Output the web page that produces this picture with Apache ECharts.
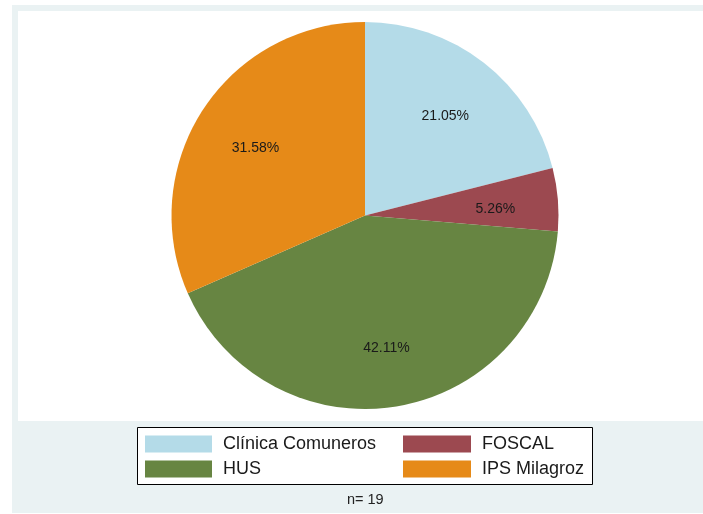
<!DOCTYPE html>
<html>
<head>
<meta charset="utf-8">
<script src="https://cdn.jsdelivr.net/npm/echarts@6/dist/echarts.min.js"></script>
<style>
  html, body { margin: 0; padding: 0; background: #fff; }
  #chart { width: 703px; height: 514px; }
</style>
</head>
<body>
<div id="chart"></div>
<script>
  // datos (n = 19)
  var categories = ['Clínica Comuneros', 'FOSCAL', 'HUS', 'IPS Milagroz'];
  var counts = [4, 1, 8, 6];
  var colors = ['#B4DBE8', '#9C4950', '#678542', '#E68A18'];
  var note = 'n= 19';

  var font = '"Liberation Sans", Arial, sans-serif';

  var pieData = categories.map(function (c, i) {
    return { name: c, value: counts[i], itemStyle: { color: colors[i] } };
  });
  var labelData = categories.map(function (c, i) {
    return { name: c, value: counts[i] };
  });

  function legendItems(idx) {
    return idx.map(function (i) {
      return { name: categories[i], itemStyle: { color: colors[i] } };
    });
  }

  var chart = echarts.init(document.getElementById('chart'));
  var option = {
    animation: false,
    graphic: [
      { type: 'rect', z: -10, shape: { x: 12, y: 5, width: 691, height: 508 }, style: { fill: '#EAF2F3' } },
      { type: 'rect', z: -9, shape: { x: 18, y: 11, width: 685, height: 410 }, style: { fill: '#FFFFFF' } },
      { type: 'rect', z: -8, shape: { x: 137.5, y: 427.5, width: 455, height: 57 }, style: { fill: '#FFFFFF', stroke: '#000', lineWidth: 1 } },
      { type: 'text', left: 347, top: 492, style: { text: note, font: '14.5px ' + font, fill: '#222' } }
    ],
    legend: [
      {
        orient: 'vertical', left: 145, top: 435, padding: 0,
        itemWidth: 67, itemHeight: 17, itemGap: 7, selectedMode: false,
        icon: 'rect',
        textStyle: { fontSize: 18, fontFamily: font, color: '#1a1a1a', padding: [0, 0, 0, 6] },
        data: legendItems([0, 2])
      },
      {
        orient: 'vertical', left: 403, top: 435, padding: 0,
        itemWidth: 68, itemHeight: 17, itemGap: 7, selectedMode: false,
        icon: 'rect',
        textStyle: { fontSize: 18, fontFamily: font, color: '#1a1a1a', padding: [0, 0, 0, 6] },
        data: legendItems([1, 3])
      }
    ],
    series: [
      {
        type: 'pie',
        center: [365, 215.5],
        radius: 193.5,
        startAngle: 90,
        clockwise: true,
        silent: true,
        label: { show: false },
        labelLine: { show: false },
        itemStyle: { borderWidth: 0 },
        emphasis: { disabled: true },
        data: pieData
      },
      {
        // etiquetas de porcentaje a 2/3 del radio
        type: 'pie',
        center: [365, 215.5],
        radius: [62, 193.5],
        startAngle: 90,
        clockwise: true,
        silent: true,
        itemStyle: { color: 'rgba(0,0,0,0)', borderWidth: 0 },
        emphasis: { disabled: true },
        labelLine: { show: false },
        labelLayout: { dy: 4 },
        label: {
          show: true,
          position: 'inside',
          fontSize: 14,
          fontFamily: font,
          color: '#1a1a1a',
          formatter: function (p) { return p.percent.toFixed(2) + '%'; }
        },
        data: labelData
      }
    ]
  };
  chart.setOption(option);
</script>
</body>
</html>
